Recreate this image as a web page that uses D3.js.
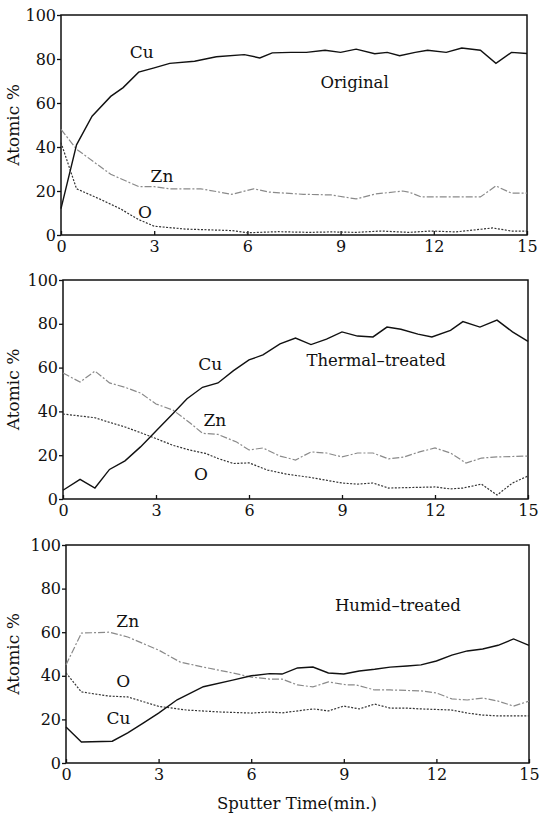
<!DOCTYPE html>
<meta charset="utf-8">
<script src="https://d3js.org/d3.v7.min.js"></script>
<style>
  body { margin: 0; background: #fff; }
  svg text { font-family: "DejaVu Serif", "Liberation Serif", serif; fill: #111; }
</style>
<div id="my_dataviz"></div>
<script>

// ---- data: [sputter time (min), atomic %] ----
var xTicks = [0, 3, 6, 9, 12, 15];
var yTicks = [0, 20, 40, 60, 80, 100];
var panelNames = ["Original", "Thermal\u2013treated", "Humid\u2013treated"];

var origCu = [[0,12],[0.5,41],[1,54],[1.6,63],[2,67],[2.5,74],[3,76],[3.5,78],[4.3,79],[5,81],[5.9,82],[6.4,80.5],[6.8,82.8],[7.4,83],[7.9,83],[8.5,84],[9,83],[9.5,84.5],[10.1,82.4],[10.5,83],[10.9,81.5],[11.4,83],[11.8,84],[12.4,83],[12.9,85],[13.5,84],[14,78],[14.5,83],[15,82.5]];
var origZn = [[0,48],[0.5,39],[1.6,27.6],[2.5,22],[3,22],[3.5,21],[4.5,21],[5.5,18.5],[6.2,21],[6.7,19.5],[7.8,18.5],[8.7,18.2],[9.5,16.4],[10.1,18.6],[11,20],[11.2,19.5],[11.6,17.3],[12.2,17.3],[13,17.3],[13.5,17.3],[14,22.3],[14.5,19],[15,19]];
var origO  = [[0,42],[0.5,21],[1.3,16],[1.9,12],[2.5,7],[3,4],[4,2.7],[5.5,2],[6,1],[7,1.5],[8,1.2],[8.7,1.4],[9.5,1.2],[10.3,1.8],[11.2,1.2],[11.9,1.8],[12.7,1.4],[13.9,3.2],[14.5,1.8],[15,1.8]];

var thermCu = [[0,4],[0.55,9],[1.03,5],[1.5,13.5],[2,17.4],[2.5,23.8],[3,31],[3.55,39],[4,45.8],[4.5,51],[5,53],[5.5,58.6],[6,63.5],[6.45,65.8],[7,70.8],[7.5,73.5],[8,70.5],[8.5,73],[9,76.3],[9.5,74.4],[10,74],[10.45,78.5],[10.9,77.5],[11.45,75.3],[11.9,74],[12.5,77],[12.9,81],[13.45,78.5],[14,81.7],[14.5,76.3],[15,72]];
var thermZn = [[0,57.5],[0.55,53.4],[1.03,58.4],[1.5,53],[2,51],[2.5,48.4],[3,43.4],[3.55,40.6],[4.1,34.7],[4.5,30],[5,29.5],[5.6,26],[6,22.4],[6.45,23.3],[7,19.6],[7.5,17.8],[8,21.5],[8.5,21],[9,19.2],[9.5,21],[10,21],[10.5,18.3],[11,19.2],[11.5,21.5],[12,23.3],[12.5,21],[13,16.4],[13.5,18.7],[14,19.2],[15,19.6]];
var thermO  = [[0,38.8],[0.55,37.9],[1.03,37.1],[1.5,35],[2,32.9],[2.5,30.3],[3,27.6],[3.55,24.5],[4.1,22.3],[4.6,20.8],[5,18.5],[5.5,16.2],[6,16.5],[6.6,13.2],[7.2,11.4],[8,9.8],[9,7.3],[9.5,6.8],[10,7.3],[10.5,5],[12,5.5],[12.5,4.6],[12.9,5],[13.5,6.8],[14,1.8],[14.5,7.3],[15,10.5]];

var humidCu = [[0,16.5],[0.5,9.6],[1.5,10],[2,13.8],[2.5,18.3],[3,22.9],[3.6,29],[4.45,35],[5.4,38],[6,40],[6.6,41],[7,40.8],[7.5,43.6],[8,44],[8.5,41.3],[9,40.8],[9.5,42.2],[10,43],[10.5,44],[11.05,44.5],[11.5,45],[12,46.8],[12.5,49.5],[13,51.4],[13.5,52.3],[14,54],[14.5,56.9],[15,54]];
var humidZn = [[0,45],[0.5,59.6],[1.4,60],[2,57.8],[3,51.8],[3.7,46.3],[4.45,44],[5.4,41.3],[6,39.4],[6.6,38.5],[7,38.5],[7.5,35.8],[8,34.9],[8.5,37.2],[9.1,35.8],[9.4,35.8],[10,33.5],[10.5,33.5],[11.5,33.1],[12,32.1],[12.5,29.4],[13,28.9],[13.5,29.8],[14,28.4],[14.5,26.1],[15,28.4]];
var humidO  = [[0,41.3],[0.5,32.6],[1.4,30.7],[2,30.3],[3,26],[3.9,24.3],[5,23.4],[6,22.9],[6.6,23.4],[7,23],[8,24.8],[8.5,23.9],[9,26.1],[9.5,24.8],[10,27],[10.5,25.2],[11,25.2],[11.5,24.8],[12.5,24.3],[13,22.9],[13.5,22],[14,21.6],[15,21.6]];

// curve labels [name, t, value]
var origLabels  = [["Cu",2.6,83],["Zn",3.25,27],["O",2.7,10.5]];
var thermLabels = [["Cu",4.75,61.5],["Zn",4.9,36],["O",4.45,11.5]];
var humidLabels = [["Zn",2.0,65],["O",1.85,37.5],["Cu",1.7,20.5]];

// ---- layout ----
var W = 539, H = 819;
var svg = d3.select("#my_dataviz").append("svg")
    .attr("width", W).attr("height", H);

var panels = [
  {left: 61, right: 527, top: 15,  bottom: 235, cu: origCu,  zn: origZn,  o: origO,  labels: origLabels,  name: [9.45, 69.5]},
  {left: 63, right: 528, top: 280, bottom: 499, cu: thermCu, zn: thermZn, o: thermO, labels: thermLabels, name: [10.1, 63.5]},
  {left: 66, right: 529, top: 545, bottom: 763, cu: humidCu, zn: humidZn, o: humidO, labels: humidLabels, name: [10.75, 72.5]}
];

var styles = {
  cu: {stroke: "#111", width: 1.4, dash: null},
  zn: {stroke: "#8a8a8a", width: 1.2, dash: "7,2,2,2"},
  o:  {stroke: "#333", width: 1.2, dash: "2,1.5"}
};

var serif = '"DejaVu Serif", "Liberation Serif", serif';

panels.forEach(function(p, i) {
  var x = d3.scaleLinear().domain([0, 15]).range([p.left, p.right]);
  var y = d3.scaleLinear().domain([0, 100]).range([p.bottom, p.top]);
  var g = svg.append("g").attr("font-family", serif);

  // frame
  g.append("rect")
    .attr("x", p.left).attr("y", p.top)
    .attr("width", p.right - p.left).attr("height", p.bottom - p.top)
    .attr("fill", "none").attr("stroke", "#111").attr("stroke-width", 1.5);

  // y axis
  var ya = g.append("g")
    .attr("transform", "translate(" + p.left + ",0)")
    .call(d3.axisLeft(y).tickValues(yTicks).tickSize(4).tickPadding(1));
  ya.attr("font-family", serif).attr("font-size", 16);
  ya.select(".domain").remove();
  ya.selectAll("line").attr("stroke", "#111").attr("stroke-width", 1.3);
  ya.selectAll("text").attr("fill", "#111");

  // x axis
  var xa = g.append("g")
    .attr("transform", "translate(0," + p.bottom + ")")
    .call(d3.axisBottom(x).tickValues(xTicks).tickSize(-4).tickPadding(6));
  xa.attr("font-family", serif).attr("font-size", 16);
  xa.select(".domain").remove();
  xa.selectAll("line").attr("stroke", "#111").attr("stroke-width", 1.3);
  xa.selectAll("text").attr("fill", "#111");

  // y title
  g.append("text")
    .attr("transform", "translate(19," + ((p.top + p.bottom) / 2) + ") rotate(-90)")
    .attr("text-anchor", "middle")
    .attr("font-size", 17)
    .text("Atomic %");

  // lines
  var line = d3.line().x(function(d) { return x(d[0]); }).y(function(d) { return y(d[1]); });
  ["o", "zn", "cu"].forEach(function(k) {
    g.append("path")
      .datum(p[k])
      .attr("fill", "none")
      .attr("stroke", styles[k].stroke)
      .attr("stroke-width", styles[k].width)
      .attr("stroke-dasharray", styles[k].dash)
      .attr("d", line);
  });

  // curve labels
  p.labels.forEach(function(l) {
    g.append("text")
      .attr("x", x(l[1])).attr("y", y(l[2]))
      .attr("dy", "0.35em")
      .attr("text-anchor", "middle")
      .attr("font-size", 17)
      .text(l[0]);
  });

  // sample name
  g.append("text")
    .attr("x", x(p.name[0])).attr("y", y(p.name[1]))
    .attr("dy", "0.35em")
    .attr("text-anchor", "middle")
    .attr("font-size", 16.5)
    .text(panelNames[i]);
});

// x title
svg.append("text")
  .attr("x", 297).attr("y", 803)
  .attr("dy", "0.35em")
  .attr("text-anchor", "middle")
  .attr("font-family", serif)
  .attr("font-size", 16.5)
  .text("Sputter Time(min.)");

</script>
